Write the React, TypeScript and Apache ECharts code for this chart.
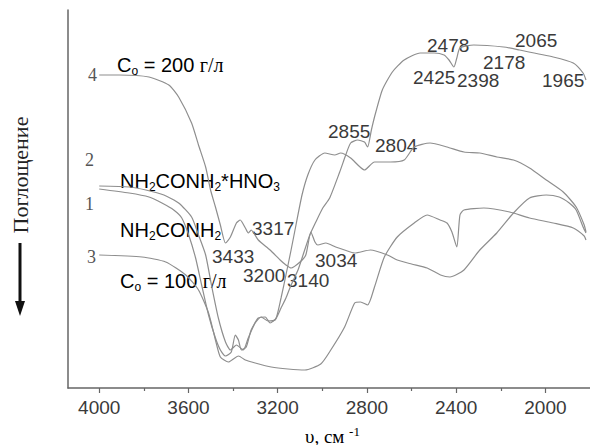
import React, { useEffect, useRef } from "react";
import * as echarts from "echarts";

// Wavenumber (cm^-1) and relative signal (arbitrary units, 0 = bottom of frame)
const curve4: [number, number][] = [
  [4000, 313], [3911, 313], [3777, 311], [3688, 303], [3644, 291], [3586, 265], [3555, 243],
  [3523, 221], [3501, 198], [3479, 181], [3457, 163], [3434, 145], [3412, 151], [3385, 165],
  [3368, 168], [3345, 160], [3332, 155], [3319, 158], [3287, 148], [3234, 138], [3189, 128],
  [3163, 123], [3140, 120], [3100, 126], [3074, 133], [3051, 156], [3033, 146], [3020, 143],
  [2984, 145], [2940, 141], [2900, 138], [2855, 135], [2784, 138], [2708, 133], [2664, 128],
  [2600, 124], [2530, 120], [2470, 113], [2428, 111], [2365, 118], [2294, 138], [2218, 155],
  [2143, 175], [2071, 190], [1996, 193], [1938, 191], [1893, 185], [1862, 178], [1831, 161],
  [1818, 155],
];

const curve3: [number, number][] = [
  [4000, 133], [3808, 131], [3702, 126], [3612, 113], [3555, 98], [3510, 75], [3479, 48],
  [3457, 31], [3421, 26], [3376, 32], [3345, 28], [3301, 25], [3229, 21], [3154, 19],
  [3078, 18], [3007, 24], [2962, 38], [2900, 61], [2855, 85], [2829, 86], [2797, 83],
  [2766, 101], [2722, 131], [2664, 151], [2588, 165], [2530, 173], [2472, 168], [2441, 165],
  [2419, 156], [2397, 141], [2383, 173], [2365, 178], [2276, 180], [2160, 176], [2071, 170],
  [1965, 165], [1875, 160], [1826, 152], [1818, 148],
];

const curve1: [number, number][] = [
  [4000, 199], [3866, 195], [3777, 191], [3719, 185], [3666, 178], [3630, 170], [3599, 153],
  [3568, 130], [3541, 103], [3510, 73], [3479, 50], [3457, 38], [3434, 32], [3408, 36],
  [3390, 53], [3376, 48], [3363, 38], [3341, 41], [3319, 58], [3287, 70], [3256, 71],
  [3234, 65], [3207, 70], [3185, 90], [3163, 113], [3140, 138], [3118, 163], [3091, 193],
  [3065, 213], [3033, 228], [2989, 235], [2944, 233], [2918, 235], [2873, 230], [2811, 218],
  [2766, 226], [2695, 226], [2633, 228], [2588, 241], [2517, 245], [2441, 241], [2365, 236],
  [2294, 235], [2218, 231], [2143, 228], [2071, 220], [1996, 208], [1920, 196], [1862, 181],
  [1826, 163], [1818, 156],
];

const curve2: [number, number][] = [
  [4000, 202], [3866, 201], [3791, 198], [3710, 193], [3644, 185], [3586, 171], [3555, 153],
  [3523, 133], [3497, 103], [3466, 70], [3434, 46], [3412, 38], [3385, 43], [3354, 38],
  [3332, 50], [3301, 65], [3274, 71], [3243, 67], [3212, 68], [3185, 80], [3163, 90],
  [3140, 103], [3109, 118], [3082, 136], [3056, 153], [3029, 166], [2998, 180], [2967, 190],
  [2922, 216], [2895, 233], [2873, 245], [2842, 248], [2811, 246], [2797, 241], [2780, 258],
  [2766, 271], [2731, 298], [2686, 316], [2633, 328], [2561, 335], [2499, 335], [2454, 333],
  [2432, 328], [2410, 321], [2397, 330], [2383, 340], [2321, 343], [2187, 341], [2116, 338],
  [1965, 331], [1875, 325], [1831, 315], [1818, 308],
];

const majorTicks = [4000, 3600, 3200, 2800, 2400, 2000];
const minorTicks = [3800, 3400, 3000, 2600, 2200];

const peakLabels = ["3433", "3317", "3200", "3140", "3034", "2855", "2804", "2478", "2425", "2398", "2178", "2065", "1965"];
const curveNumbers = ["4", "2", "1", "3"];

// layout for the peak labels (pixels), same order as peakLabels
const peakLabelPos: [number, number][] = [
  [212, 256], [252, 228], [243, 275], [287, 280], [315, 260], [328, 131], [375, 145],
  [427, 45], [413, 77], [457, 80], [483, 62], [515, 40], [542, 80],
];
const curveNumberPos: [number, number][] = [[88, 75], [85, 160], [85, 204], [87, 257]];

const SANS = "'Liberation Sans', Arial, sans-serif";
const SERIF = "'Liberation Serif', 'Times New Roman', serif";
const TXT = "#3a3a3a";
const LINE = "#8e8e8e";

export default function App() {
  const ref = useRef<HTMLDivElement>(null);
  useEffect(() => {
    if (!ref.current) return;
    const chart = echarts.init(ref.current, null, { renderer: "svg" });

    const richMain = {
      a: { fontFamily: SANS, fontSize: 20, lineHeight: 24, color: TXT },
      s: { fontFamily: SANS, fontSize: 12, lineHeight: 14, verticalAlign: "bottom", color: TXT },
      b: { fontFamily: SERIF, fontSize: 20, lineHeight: 24, color: TXT },
    };

    const textEl = (x: number, y: number, text: string, font: string, extra: any = {}) => ({
      type: "text",
      x,
      y,
      silent: true,
      style: { text, font, fill: TXT, align: "left", verticalAlign: "middle", ...extra },
    });

    const graphics: any[] = [];
    peakLabels.forEach((t, i) => {
      graphics.push(textEl(peakLabelPos[i][0], peakLabelPos[i][1], t, `19px ${SANS}`));
    });
    curveNumbers.forEach((t, i) => {
      graphics.push(textEl(curveNumberPos[i][0], curveNumberPos[i][1], t, `18px ${SERIF}`, { fill: "#555" }));
    });
    graphics.push({
      type: "text", x: 117, y: 65, silent: true,
      style: { text: "{a|C}{s|o}{a| = 200 }{b|г/л}", rich: richMain, align: "left", verticalAlign: "middle" },
    });
    graphics.push({
      type: "text", x: 120, y: 281, silent: true,
      style: { text: "{a|C}{s|o}{a| = 100 }{b|г/л}", rich: richMain, align: "left", verticalAlign: "middle" },
    });
    graphics.push({
      type: "text", x: 120, y: 181, silent: true,
      style: { text: "{a|NH}{s|2}{a|CONH}{s|2}{a|*HNO}{s|3}", rich: richMain, align: "left", verticalAlign: "middle" },
    });
    graphics.push({
      type: "text", x: 120, y: 230, silent: true,
      style: { text: "{a|NH}{s|2}{a|CONH}{s|2}", rich: richMain, align: "left", verticalAlign: "middle" },
    });
    // y-axis title rotated
    graphics.push({
      type: "text", x: 20, y: 175, rotation: Math.PI / 2, silent: true,
      style: { text: "Поглощение", font: `22px ${SERIF}`, fill: "#222", align: "center", verticalAlign: "middle" },
    });
    // arrow
    graphics.push({
      type: "line", silent: true,
      shape: { x1: 20, y1: 243, x2: 20, y2: 304 },
      style: { stroke: "#111", lineWidth: 3 },
    });
    graphics.push({
      type: "polygon", silent: true,
      shape: { points: [[15, 301], [25, 301], [20, 316]] },
      style: { fill: "#111" },
    });
    // x-axis title
    graphics.push({
      type: "text", x: 305, y: 436, silent: true,
      style: {
        text: "{m|υ, см }{p|-1}",
        rich: {
          m: { fontFamily: SERIF, fontSize: 19, lineHeight: 22, color: "#222" },
          p: { fontFamily: SERIF, fontSize: 13, lineHeight: 14, verticalAlign: "top", color: "#222" },
        },
        align: "left",
        verticalAlign: "middle",
      },
    });

    const mkSeries = (name: string, data: [number, number][]) => ({
      name,
      type: "line",
      data,
      showSymbol: false,
      smooth: 0.2,
      lineStyle: { color: LINE, width: 1.2 },
      itemStyle: { color: LINE },
      emphasis: { disabled: true },
      silent: true,
    });

    chart.setOption({
      animation: false,
      backgroundColor: "#ffffff",
      grid: { left: 68, top: 10, width: 525.3, height: 378, containLabel: false },
      xAxis: [
        {
          type: "value",
          min: 1800,
          max: 4140,
          inverse: true,
          position: "bottom",
          axisLine: { show: true, lineStyle: { color: "#666", width: 1.5 } },
          axisTick: { show: true, length: 5, lineStyle: { color: "#666", width: 1.2 }, customValues: majorTicks },
          axisLabel: {
            show: true,
            customValues: majorTicks,
            formatter: (v: number) => String(Math.round(v)),
            margin: 10,
            fontFamily: SANS,
            fontSize: 19,
            color: TXT,
          },
          splitLine: { show: false },
        },
        {
          type: "value",
          min: 1800,
          max: 4140,
          inverse: true,
          position: "bottom",
          offset: 0,
          axisLine: { show: false },
          axisTick: { show: true, length: 3, lineStyle: { color: "#666", width: 1.2 }, customValues: minorTicks },
          axisLabel: { show: false },
          splitLine: { show: false },
        },
      ],
      yAxis: {
        type: "value",
        min: 0,
        max: 378,
        axisLine: { show: true, lineStyle: { color: "#666", width: 1.5 } },
        axisTick: { show: false },
        axisLabel: { show: false },
        splitLine: { show: false },
      },
      series: [
        mkSeries("4", curve4),
        mkSeries("3", curve3),
        mkSeries("1", curve1),
        mkSeries("2", curve2),
      ],
      graphic: graphics,
    });

    return () => chart.dispose();
  }, []);

  return <div ref={ref} style={{ width: 590, height: 445, position: "fixed", left: 0, top: 0 }} />;
}
